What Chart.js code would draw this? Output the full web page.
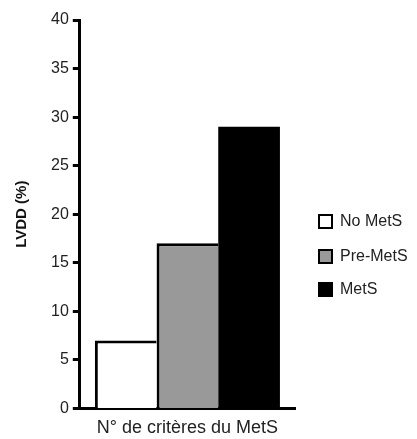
<!DOCTYPE html>
<html>
<head>
<meta charset="utf-8">
<script src="https://cdn.jsdelivr.net/npm/chart.js@4"></script>
<style>
  body { margin: 0; background: #fff; }
  canvas { display: block; }
</style>
</head>
<body>
<canvas id="chartLVDD" width="417" height="439"></canvas>
<script>
const groupLabels = ['No MetS', 'Pre-MetS', 'MetS'];
const lvddValues = [7, 17, 29];
const barColors = ['#ffffff', '#999999', '#000000'];
const yTicks = [0, 5, 10, 15, 20, 25, 30, 35, 40];

const FONT = 'Arial, "Liberation Sans", sans-serif';

// legend drawn at the right side, like the original figure
const sideLegend = {
  id: 'sideLegend',
  afterDraw(chart) {
    const ctx = chart.ctx;
    const x0 = 318;
    const rows = [221, 256, 289];
    ctx.save();
    ctx.font = '16px ' + FONT;
    ctx.textBaseline = 'middle';
    chart.data.datasets.forEach((ds, i) => {
      const y = rows[i];
      ctx.fillStyle = ds.backgroundColor;
      ctx.fillRect(x0, y - 7, 15, 15);
      ctx.lineWidth = 2;
      ctx.strokeStyle = '#000';
      ctx.strokeRect(x0 + 1, y - 6, 13, 13);
      ctx.fillStyle = '#222';
      ctx.fillText(ds.label, x0 + 22, y + 1);
    });
    ctx.restore();
  }
};

// black bar needs no outline of its own
const datasets = groupLabels.map((name, i) => ({
  label: name,
  data: [lvddValues[i]],
  backgroundColor: barColors[i],
  borderColor: '#000',
  borderWidth: i === groupLabels.length - 1 ? 0 : { top: 3, left: 3, bottom: 0, right: 0 },
  borderSkipped: false,
  barPercentage: 1,
  categoryPercentage: 0.86
}));

new Chart(document.getElementById('chartLVDD').getContext('2d'), {
  type: 'bar',
  data: { labels: [''], datasets: datasets },
  options: {
    responsive: false,
    animation: false,
    devicePixelRatio: 1,
    layout: { padding: { top: 20, right: 122, left: 13, bottom: 0 } },
    plugins: {
      legend: { display: false },
      tooltip: { enabled: false }
    },
    scales: {
      x: {
        grid: { display: false },
        border: { color: '#000', width: 3 },
        ticks: { display: false },
        title: {
          display: true,
          text: 'N° de critères du MetS',
          color: '#222',
          font: { family: FONT, size: 18 },
          padding: { top: 1, bottom: 0 }
        }
      },
      y: {
        min: 0,
        max: 40,
        afterBuildTicks(scale) {
          scale.ticks = yTicks.map(v => ({ value: v }));
        },
        grid: { drawOnChartArea: false, tickLength: 7, tickColor: '#000', tickWidth: 3 },
        border: { color: '#000', width: 3 },
        ticks: {
          color: '#222',
          padding: 4,
          font: { family: FONT, size: 16 }
        },
        title: {
          display: true,
          text: 'LVDD (%)',
          color: '#111',
          font: { family: FONT, size: 15, weight: 'bold' },
          padding: { top: 0, bottom: 16 }
        }
      }
    }
  },
  plugins: [sideLegend]
});
</script>
</body>
</html>
